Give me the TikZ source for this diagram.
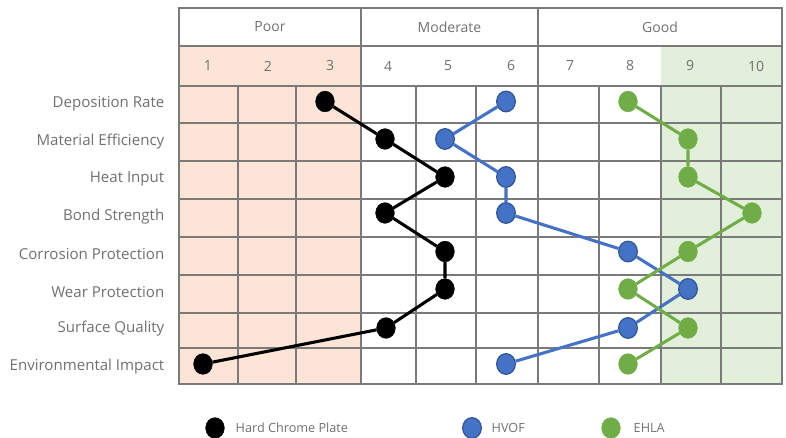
\documentclass[tikz,border=0pt]{standalone}
\usepackage{fontspec}
\setmainfont{Open Sans}
\usetikzlibrary{shapes.geometric}
\definecolor{poorfill}{RGB}{252,228,214}
\definecolor{goodfill}{RGB}{226,239,218}
\definecolor{gridgray}{RGB}{122,122,122}
\definecolor{textgray}{RGB}{112,112,112}
\definecolor{hvofblue}{RGB}{68,114,196}
\definecolor{hvofedge}{RGB}{47,85,151}
\definecolor{ehlagreen}{RGB}{112,173,71}

\begin{document}
\begin{tikzpicture}[
            x = 0.75pt, y = -0.75pt,
            every node/.style = {font = \fontsize{10.5}{12}\selectfont, text = textgray},
            gridline/.style = {draw = gridgray, line width = 1.3pt},
            dot/.style = {ellipse, minimum width = 14pt, minimum height = 15.5pt, inner sep = 0pt},
            hcp/.style = {dot, fill = black, draw = black},
            hvof/.style = {dot, fill = hvofblue, draw = hvofedge, line width = 0.9pt},
            ehla/.style = {dot, fill = ehlagreen, draw = ehlagreen},
            hcpline/.style = {draw = black, line width = 2.3pt},
            hvofline/.style = {draw = hvofblue, line width = 2.3pt},
            ehlaline/.style = {draw = ehlagreen, line width = 2.3pt},
            criterion/.style = {anchor = east, font = \fontsize{11.3}{13}\selectfont},
            legend/.style = {anchor = west, font = \fontsize{9.5}{11}\selectfont}
            ]
            \useasboundingbox (0,0) rectangle (786,438);

            % shaded groups
            \fill[poorfill] (179,46) rectangle (361,384);
            \fill[goodfill] (661,46) rectangle (782,384);

            % grid
            \foreach \y in {46,86,123,161,199,237,275,313,348}
              \draw[gridline] (179,\y) -- (782,\y);
            \foreach \x in {238,296,416,476,599,661,721}
              \draw[gridline] (\x,86) -- (\x,384);
            \foreach \x in {361,538}
              \draw[gridline] (\x,8) -- (\x,384);
            \draw[gridline] (179,8) rectangle (782,384);

            % headers
            \node (poor) at (270,27) {Poor};
            \node (moderate) at (449.5,27) {Moderate};
            \node (good) at (660,27) {Good};
            \foreach \x [count=\n] in {208,268,330,388,448,511,570,630,690,756}
              \node (n\n) at (\x,66) {\n};

            % criteria
            \node[criterion] (c1) at (169,104) {Deposition Rate};
            \node[criterion] (c2) at (169,142) {Material Efficiency};
            \node[criterion] (c3) at (169,179) {Heat Input};
            \node[criterion] (c4) at (169,217) {Bond Strength};
            \node[criterion] (c5) at (169,254) {Corrosion Protection};
            \node[criterion] (c6) at (169,292) {Wear Protection};
            \node[criterion] (c7) at (169,329) {Surface Quality};
            \node[criterion] (c8) at (169,367) {Environmental Impact};

            % hard chrome plate
            \node[hcp] (h1) at (325,101.5) {};
            \node[hcp] (h2) at (385,139) {};
            \node[hcp] (h3) at (445,177) {};
            \node[hcp] (h4) at (385,213) {};
            \node[hcp] (h5) at (445,251.5) {};
            \node[hcp] (h6) at (445,289) {};
            \node[hcp] (h7) at (386,328) {};
            \node[hcp] (h8) at (203,364) {};
            \draw[hcpline] (h1) -- (h2) -- (h3) -- (h4) -- (h5) -- (h6) -- (h7) -- (h8);

            % hvof
            \node[hvof] (v1) at (506,101.5) {};
            \node[hvof] (v2) at (445,139) {};
            \node[hvof] (v3) at (506,177) {};
            \node[hvof] (v4) at (506,213) {};
            \node[hvof] (v5) at (628,251.5) {};
            \node[hvof] (v6) at (688,289) {};
            \node[hvof] (v7) at (628,328) {};
            \node[hvof] (v8) at (506,364) {};
            \draw[hvofline] (v1) -- (v2) -- (v3) -- (v4) -- (v5) -- (v6) -- (v7) -- (v8);

            % ehla
            \node[ehla] (e1) at (628,101.5) {};
            \node[ehla] (e2) at (688,139) {};
            \node[ehla] (e3) at (688,177) {};
            \node[ehla] (e4) at (752,213) {};
            \node[ehla] (e5) at (688,251.5) {};
            \node[ehla] (e6) at (628,289) {};
            \node[ehla] (e7) at (688,328) {};
            \node[ehla] (e8) at (628,364) {};
            \draw[ehlaline] (e1) -- (e2) -- (e3) -- (e4) -- (e5) -- (e6) -- (e7) -- (e8);

            % legend
            \node[hcp] (lh) at (215,428) {};
            \node[legend] (lht) at (231,428) {Hard Chrome Plate};
            \node[hvof] (lv) at (472,428) {};
            \node[legend] (lvt) at (487,428) {HVOF};
            \node[ehla] (le) at (611,428) {};
            \node[legend] (let) at (629,428) {EHLA};
          \end{tikzpicture}
\end{document}
